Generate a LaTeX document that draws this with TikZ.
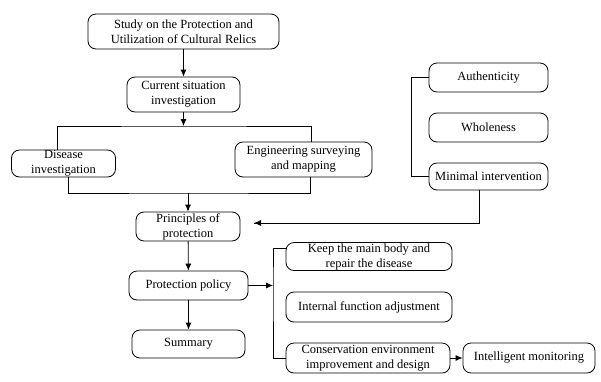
\documentclass[tikz,border=0pt]{standalone}
\usepackage{fontspec}
\setmainfont{Liberation Serif}
\usetikzlibrary{arrows.meta}
\begin{document}
\begin{tikzpicture}[x=1pt,y=-1pt,
  box/.style={draw,rounded corners=8pt,align=center,inner sep=0pt,line width=0.8pt,
    font=\fontsize{12.5}{15}\selectfont},
  conn/.style={line width=0.8pt},
  arr/.style={line width=0.8pt,-{Latex[length=7pt,width=6pt]}}]
\useasboundingbox (0,0) rectangle (601,381);
\node[box,minimum width=191pt,minimum height=35pt] (s) at (183.5,31.5) {Study on the Protection and\\Utilization of Cultural Relics};
\node[box,minimum width=113pt,minimum height=35pt] (c) at (183.5,94.5) {Current situation\\investigation};
\node[box,minimum width=104pt,minimum height=27pt] (d) at (63.5,163.5) {Disease\\investigation};
\node[box,minimum width=137pt,minimum height=35pt] (e) at (303.5,159.5) {Engineering surveying\\and mapping};
\node[box,minimum width=104pt,minimum height=29pt] (p) at (188,226.5) {Principles of\\protection};
\node[box,minimum width=119pt,minimum height=29pt] (pp) at (188.5,285.5) {Protection policy};
\node[box,minimum width=113pt,minimum height=28pt] (sm) at (188.5,344) {Summary};
\node[box,minimum width=119pt,minimum height=29pt] (a) at (488.5,77.5) {Authenticity};
\node[box,minimum width=119pt,minimum height=29pt] (w) at (488.5,127.5) {Wholeness};
\node[box,minimum width=119pt,minimum height=27pt] (m) at (488.5,176.5) {Minimal intervention};
\node[box,minimum width=166pt,minimum height=28pt] (k) at (369,256.5) {Keep the main body and\\repair the disease};
\node[box,minimum width=166pt,minimum height=30pt] (i) at (369,307) {Internal function adjustment};
\node[box,minimum width=164pt,minimum height=30pt] (cv) at (368,358) {Conservation environment\\improvement and design};
\node[box,minimum width=132pt,minimum height=30pt] (im) at (529,358) {Intelligent monitoring};
\coordinate (tj) at (183.5,126);
\coordinate (bj) at (188,193);
\coordinate (pj) at (254,223);
\coordinate (rj) at (273,285.5);
% top flow
\draw[arr] (s) -- (c);
\draw[arr] (c.south) -- (tj);
\draw[conn] ([xshift=-6.5pt]d.north) |- (tj) -| ([xshift=7.5pt]e.north);
\draw[conn] ([xshift=4.5pt]d.south) |- (bj) -| ([xshift=6.5pt]e.south);
\draw[arr] (bj) -- (p.north);
% principles bracket
\draw[conn] (a.west) -- ++(-17,0) |- (m.west);
\draw[conn] ([xshift=-9.5pt]m.south) |- (pj);
\draw[arr] ([xshift=-9.5pt]m.south |- pj) -- (pj);
% lower flow
\draw[arr] (p) -- (pp);
\draw[arr] (pp) -- (sm);
\draw[arr] (pp.east) -- (rj);
\draw[conn] ([yshift=8.5pt]k.west) -| (rj) |- (cv.west);
\draw[arr] (cv) -- (im);
\end{tikzpicture}
\end{document}
